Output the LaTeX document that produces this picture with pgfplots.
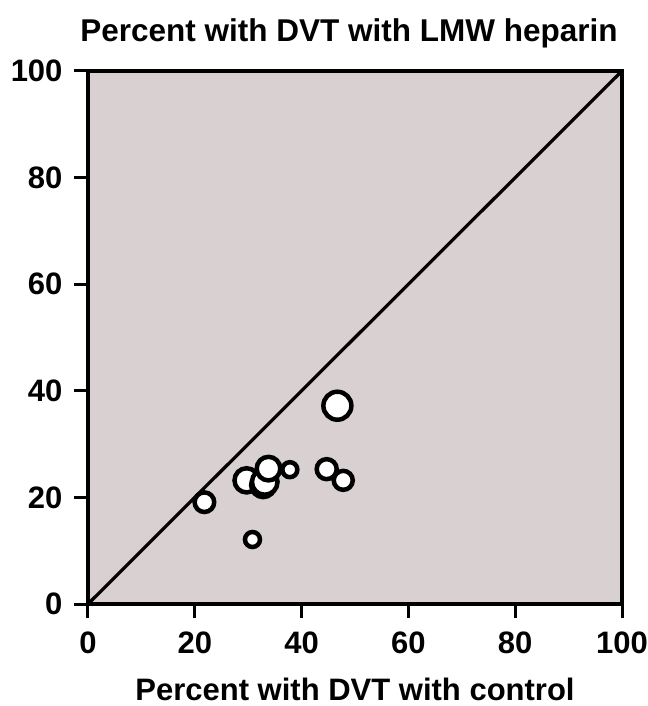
\documentclass[border=0pt]{standalone}
\usepackage{pgfplots}
\pgfplotsset{compat=1.18}
\usepackage{fontspec}
\setmainfont{Liberation Sans}
\definecolor{panel}{RGB}{216,208,209}

\begin{document}
\begin{tikzpicture}
\path[use as bounding box] (-88bp,-102bp) rectangle (560bp,604bp);
\begin{axis}[
    scale only axis,
    width=534bp, height=533bp,
    xmin=0, xmax=100, ymin=0, ymax=100,
    xtick={0,20,...,100}, ytick={0,20,...,100},
    tick pos=left,
    tick align=outside,
    major tick length=14bp,
    tick style={line width=3bp, black},
    axis line style={line width=3.8bp},
    axis background/.style={fill=panel},
    ticklabel style={font=\fontsize{31bp}{37bp}\selectfont\bfseries},
    xticklabel style={yshift=-10bp},
    yticklabel style={xshift=-8bp},
    /pgf/number format/assume math mode=true,
    title={Percent with DVT with LMW heparin},
    title style={font=\fontsize{31.5bp}{37bp}\selectfont\bfseries, at={(0.5,1)}, anchor=base, yshift=24bp, xshift=-6bp},
    xlabel={Percent with DVT with control},
    xlabel style={font=\fontsize{31bp}{37bp}\selectfont\bfseries, at={(0.5,0)}, anchor=base, yshift=-96bp},
    clip=false,
]
\addplot[black, line width=3.2bp] coordinates {(0,0) (100,100)};

\addplot[scatter, only marks, mark=*, line width=4.5bp,
    scatter/use mapped color={draw=black, fill=white},
    visualization depends on={\thisrow{r} \as \rad},
    scatter/@pre marker code/.append style={/tikz/mark size=\rad bp}]
  table {
x    y    r
46.7 37.2 14.0
21.8 19.1 9.8
30.8 12.1 7.5
29.7 23.2 12.1
37.8 25.2 7.5
32.8 22.3 12.0
33.1 22.9 12.8
33.8 25.4 11.8
44.7 25.3 10.0
47.8 23.2 9.5
};
\end{axis}
\end{tikzpicture}
\end{document}
